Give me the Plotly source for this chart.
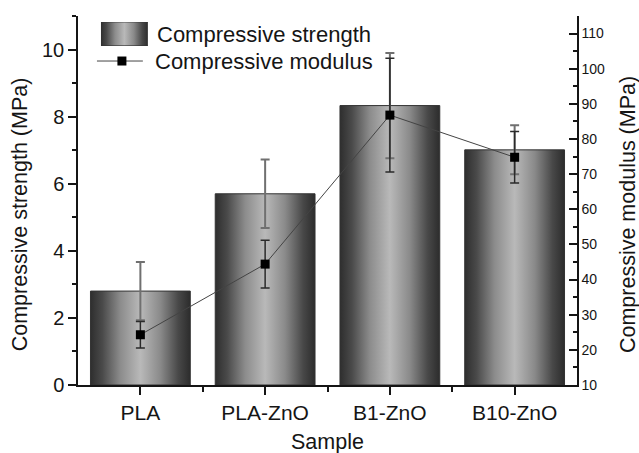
import plotly.graph_objects as go

# Sample groups and measured properties
samples = ["PLA", "PLA-ZnO", "B1-ZnO", "B10-ZnO"]
strength = [2.8, 5.7, 8.33, 7.01]          # MPa
strength_err = [0.87, 1.02, 1.57, 0.73]
modulus = [24.3, 44.4, 86.8, 74.8]         # MPa
modulus_err = [3.8, 6.8, 16.2, 7.3]

FONT = "Arial, 'Liberation Sans', sans-serif"
INK = "#151515"
BAR_W = 0.8
GRADIENT = [
    [0.0, "#2e2e2e"], [0.12, "#4a4a4a"], [0.3, "#8c8c8c"],
    [0.5, "#b9b9b9"], [0.7, "#8a8a8a"], [0.88, "#484848"],
    [1.0, "#2c2c2c"],
]

fig = go.Figure()

# Cylinder-shaded bars for compressive strength
for i, v in enumerate(strength):
    x0, x1 = i - BAR_W / 2, i + BAR_W / 2
    fig.add_trace(go.Scatter(
        x=[x0, x1, x1, x0, x0], y=[0, 0, v, v, 0],
        fill="toself", mode="lines",
        line=dict(color="#333333", width=1),
        fillgradient=dict(type="horizontal", colorscale=GRADIENT,
                          start=x0, stop=x1),
        showlegend=False, hoverinfo="skip",
    ))

# Strength error bars
fig.add_trace(go.Scatter(
    x=list(range(len(samples))), y=strength, mode="markers",
    marker=dict(size=1, color="rgba(0,0,0,0)"),
    error_y=dict(type="data", array=strength_err, color="#707070",
                 thickness=2, width=4.5),
    showlegend=False, hoverinfo="skip",
))

# Compressive modulus on the secondary axis
fig.add_trace(go.Scatter(
    x=list(range(len(samples))), y=modulus, yaxis="y2",
    mode="lines+markers",
    line=dict(color="#444444", width=1),
    marker=dict(symbol="square", size=9, color="#000000"),
    error_y=dict(type="data", array=modulus_err, color="#2a2a2a",
                 thickness=1.5, width=4.5),
    showlegend=False, hoverinfo="skip",
))

# Legend swatch for the bars
fig.add_trace(go.Scatter(
    x=[0, 1, 1, 0, 0], y=[0, 0, 1, 1, 0], xaxis="x3", yaxis="y3",
    fill="toself", mode="lines", line=dict(color="#333333", width=1),
    fillgradient=dict(type="horizontal", colorscale=GRADIENT,
                      start=0, stop=1),
    showlegend=False, hoverinfo="skip",
))

axis_common = dict(showgrid=False, zeroline=False, showline=True,
                   linecolor=INK, linewidth=1.5, tickcolor=INK,
                   tickwidth=1.5, ticklen=8)

fig.update_layout(
    width=639, height=453,
    margin=dict(l=78, r=62, t=16, b=68),
    paper_bgcolor="white", plot_bgcolor="white",
    font=dict(family=FONT, color=INK, size=20),
    showlegend=False,
    xaxis=dict(**axis_common, range=[-0.5, 3.5], tickmode="array",
               tickvals=list(range(len(samples))), ticktext=samples,
               ticks="outside", tickfont=dict(size=21),
               minor=dict(tickmode="array", tickvals=[0.5, 1.5, 2.5],
                          ticks="outside", ticklen=5, tickcolor=INK,
                          tickwidth=1.5)),
    yaxis=dict(**axis_common, range=[0, 11], dtick=2, tick0=0,
               ticks="outside", tickfont=dict(size=20),
               minor=dict(dtick=1, ticks="outside", ticklen=4,
                          tickcolor=INK, tickwidth=1.5)),
    yaxis2=dict(**axis_common, overlaying="y", side="right",
                range=[10, 115], dtick=10, tick0=10, ticks="inside",
                tickfont=dict(size=14),
                minor=dict(dtick=5, ticks="inside", ticklen=4,
                           tickcolor=INK, tickwidth=1.5)),
    xaxis3=dict(domain=[0.046, 0.140], range=[0, 1], visible=False,
                anchor="y3", fixedrange=True),
    yaxis3=dict(domain=[0.919, 0.984], range=[0, 1], visible=False,
                anchor="x3", fixedrange=True),
)

# Legend line sample with marker
fig.add_shape(type="line", xref="paper", yref="paper",
              x0=0.038, x1=0.130, y0=0.878, y1=0.878,
              line=dict(color="#444444", width=1))
fig.add_shape(type="rect", xref="paper", yref="paper",
              xsizemode="pixel", ysizemode="pixel",
              xanchor=0.088, yanchor=0.878,
              x0=-4.5, x1=4.5, y0=-4.5, y1=4.5,
              fillcolor="#000000", line=dict(width=0))

ann = dict(xref="paper", yref="paper", showarrow=False)
legend_font = dict(family=FONT, size=22, color=INK)
title_font = dict(family=FONT, size=21.5, color=INK)
fig.add_annotation(text="Compressive strength", x=0.154, y=0.951,
                   xanchor="left", yanchor="middle", font=legend_font, **ann)
fig.add_annotation(text="Compressive modulus", x=0.150, y=0.878,
                   xanchor="left", yanchor="middle", font=legend_font, **ann)

# Axis titles
fig.add_annotation(text="Compressive strength (MPa)", x=-0.116, y=0.463,
                   textangle=-90, xanchor="center", yanchor="middle",
                   font=title_font, **ann)
fig.add_annotation(text="Compressive modulus (MPa)", x=1.102, y=0.463,
                   textangle=-90, xanchor="center", yanchor="middle",
                   font=title_font, **ann)
fig.add_annotation(text="Sample", x=0.5, y=-0.154,
                   xanchor="center", yanchor="middle", font=title_font, **ann)

fig.write_html("out.html")
